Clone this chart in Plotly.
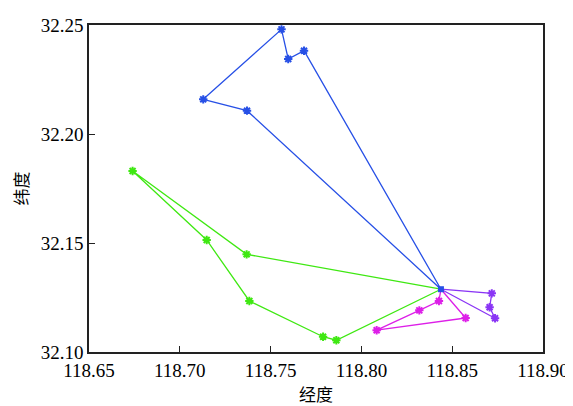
import plotly.graph_objects as go

hub_lon, hub_lat = 118.8438, 32.1288

blue_lon = [118.8438, 118.7370, 118.7129, 118.7560, 118.7597, 118.7684, 118.8438]
blue_lat = [32.1288, 32.2107, 32.2159, 32.2480, 32.2344, 32.2382, 32.1288]

green_lon = [118.8438, 118.7368, 118.6740, 118.7148, 118.7383, 118.7789, 118.7862, 118.8438]
green_lat = [32.1288, 32.1448, 32.1830, 32.1514, 32.1234, 32.1070, 32.1054, 32.1288]

magenta_lon = [118.8438, 118.8427, 118.8319, 118.8084, 118.8574, 118.8438]
magenta_lat = [32.1288, 32.1234, 32.1191, 32.1100, 32.1156, 32.1288]

purple_lon = [118.8438, 118.8718, 118.8706, 118.8736, 118.8438]
purple_lat = [32.1288, 32.1269, 32.1205, 32.1155, 32.1288]

x_ticks = [118.65, 118.70, 118.75, 118.80, 118.85, 118.90]
y_ticks = [32.10, 32.15, 32.20, 32.25]

series = [
    (green_lon, green_lat, "#3fe812"),
    (magenta_lon, magenta_lat, "#dd1fe8"),
    (purple_lon, purple_lat, "#8a35f5"),
    (blue_lon, blue_lat, "#2750e6"),
]

fig = go.Figure()
for lon, lat, col in series:
    fig.add_trace(go.Scatter(
        x=lon[1:-1], y=lat[1:-1], mode="markers", showlegend=False,
        marker=dict(symbol="asterisk-open", size=7, color=col, line=dict(width=2, color=col)),
        hoverinfo="skip"))
    fig.add_trace(go.Scatter(
        x=lon, y=lat, mode="lines", showlegend=False,
        line=dict(color=col, width=1.3), hoverinfo="skip"))

fig.add_trace(go.Scatter(
    x=[hub_lon], y=[hub_lat], mode="markers", showlegend=False,
    marker=dict(symbol="square", size=6, color="#2750e6"), hoverinfo="skip"))

tick_font = dict(family="Liberation Serif", size=19, color="black")
cjk_font = dict(family="Noto Sans CJK SC", size=17, color="black")
fig.update_layout(
    width=565, height=398,
    margin=dict(l=81, r=30, t=17, b=54),
    paper_bgcolor="white", plot_bgcolor="white",
    font=tick_font,
    xaxis=dict(range=[118.65, 118.90], tickvals=x_ticks, automargin=False,
               ticktext=[f"{v:.2f}" for v in x_ticks], tickfont=tick_font,
               showgrid=False, zeroline=False, showline=True, mirror=True,
               linecolor="#222", linewidth=1.5, ticks="inside", ticklen=6,
               tickcolor="#222", tickwidth=1.2,
               title=dict(text="经度", font=cjk_font, standoff=10)),
    yaxis=dict(range=[32.10, 32.25], tickvals=y_ticks, automargin=False,
               ticktext=[f"{v:.2f}" for v in y_ticks], tickfont=tick_font,
               showgrid=False, zeroline=False, showline=True, mirror=True,
               linecolor="#222", linewidth=1.5, ticks="inside", ticklen=6,
               tickcolor="#222", tickwidth=1.2,
               title=dict(text="纬度", font=cjk_font, standoff=10)),
)

fig.write_html("out.html")
